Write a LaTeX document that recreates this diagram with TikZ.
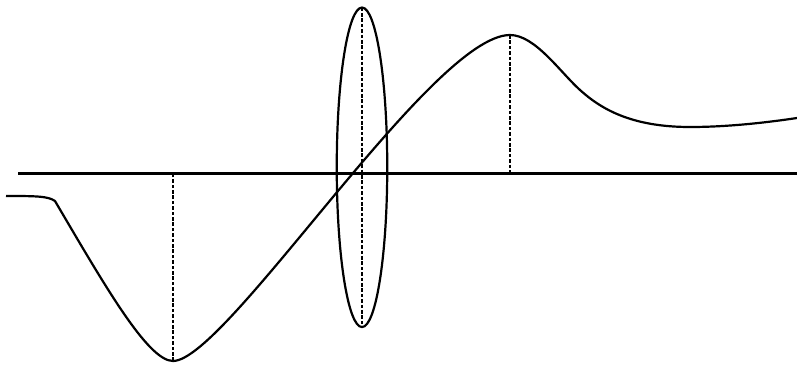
\documentclass[tikz,border=0pt]{standalone}
\usetikzlibrary{shapes.geometric}
\begin{document}
\begin{tikzpicture}[x=1pt, y=-1pt, curve/.style = {line width=2.2pt, line join=round}, guide/.style = {line width=2pt, dash pattern=on 3.6pt off 1.8pt}, lens/.style = {draw, ellipse, line width=2.2pt, inner sep=0pt, outer sep=0pt, minimum width=50.5pt, minimum height=319.5pt}]
            \useasboundingbox (0,0) rectangle (797,365);
            \coordinate (axl) at (18,173.5);
            \coordinate (axr) at (797,173.5);
            \coordinate (start) at (6,196);
            \coordinate (knee) at (55,201);
            \coordinate (low) at (173,361);
            \coordinate (peak) at (510,35);
            \coordinate (bend) at (580,90);
            \coordinate (flat) at (690,127);
            \coordinate (tail) at (797,118);
            \node[lens] (lens) at (362,167.3) {};
            \draw[curve] (axl) -- (axr);
            \draw[curve] (start) .. controls (35,196) and (48,196) .. (knee) .. controls (105,286) and (148,361) .. (low) .. controls (226,361) and (432,35) .. (peak) .. controls (535,35) and (560,72) .. (bend) .. controls (600,108) and (630,127) .. (flat) .. controls (730,127) and (770,122) .. (tail);
            \draw[guide] (low) -- (low |- axl);
            \draw[guide] (peak) -- (peak |- axl);
            \draw[guide] (lens.north) -- (lens.south);
        \end{tikzpicture}
\end{document}
